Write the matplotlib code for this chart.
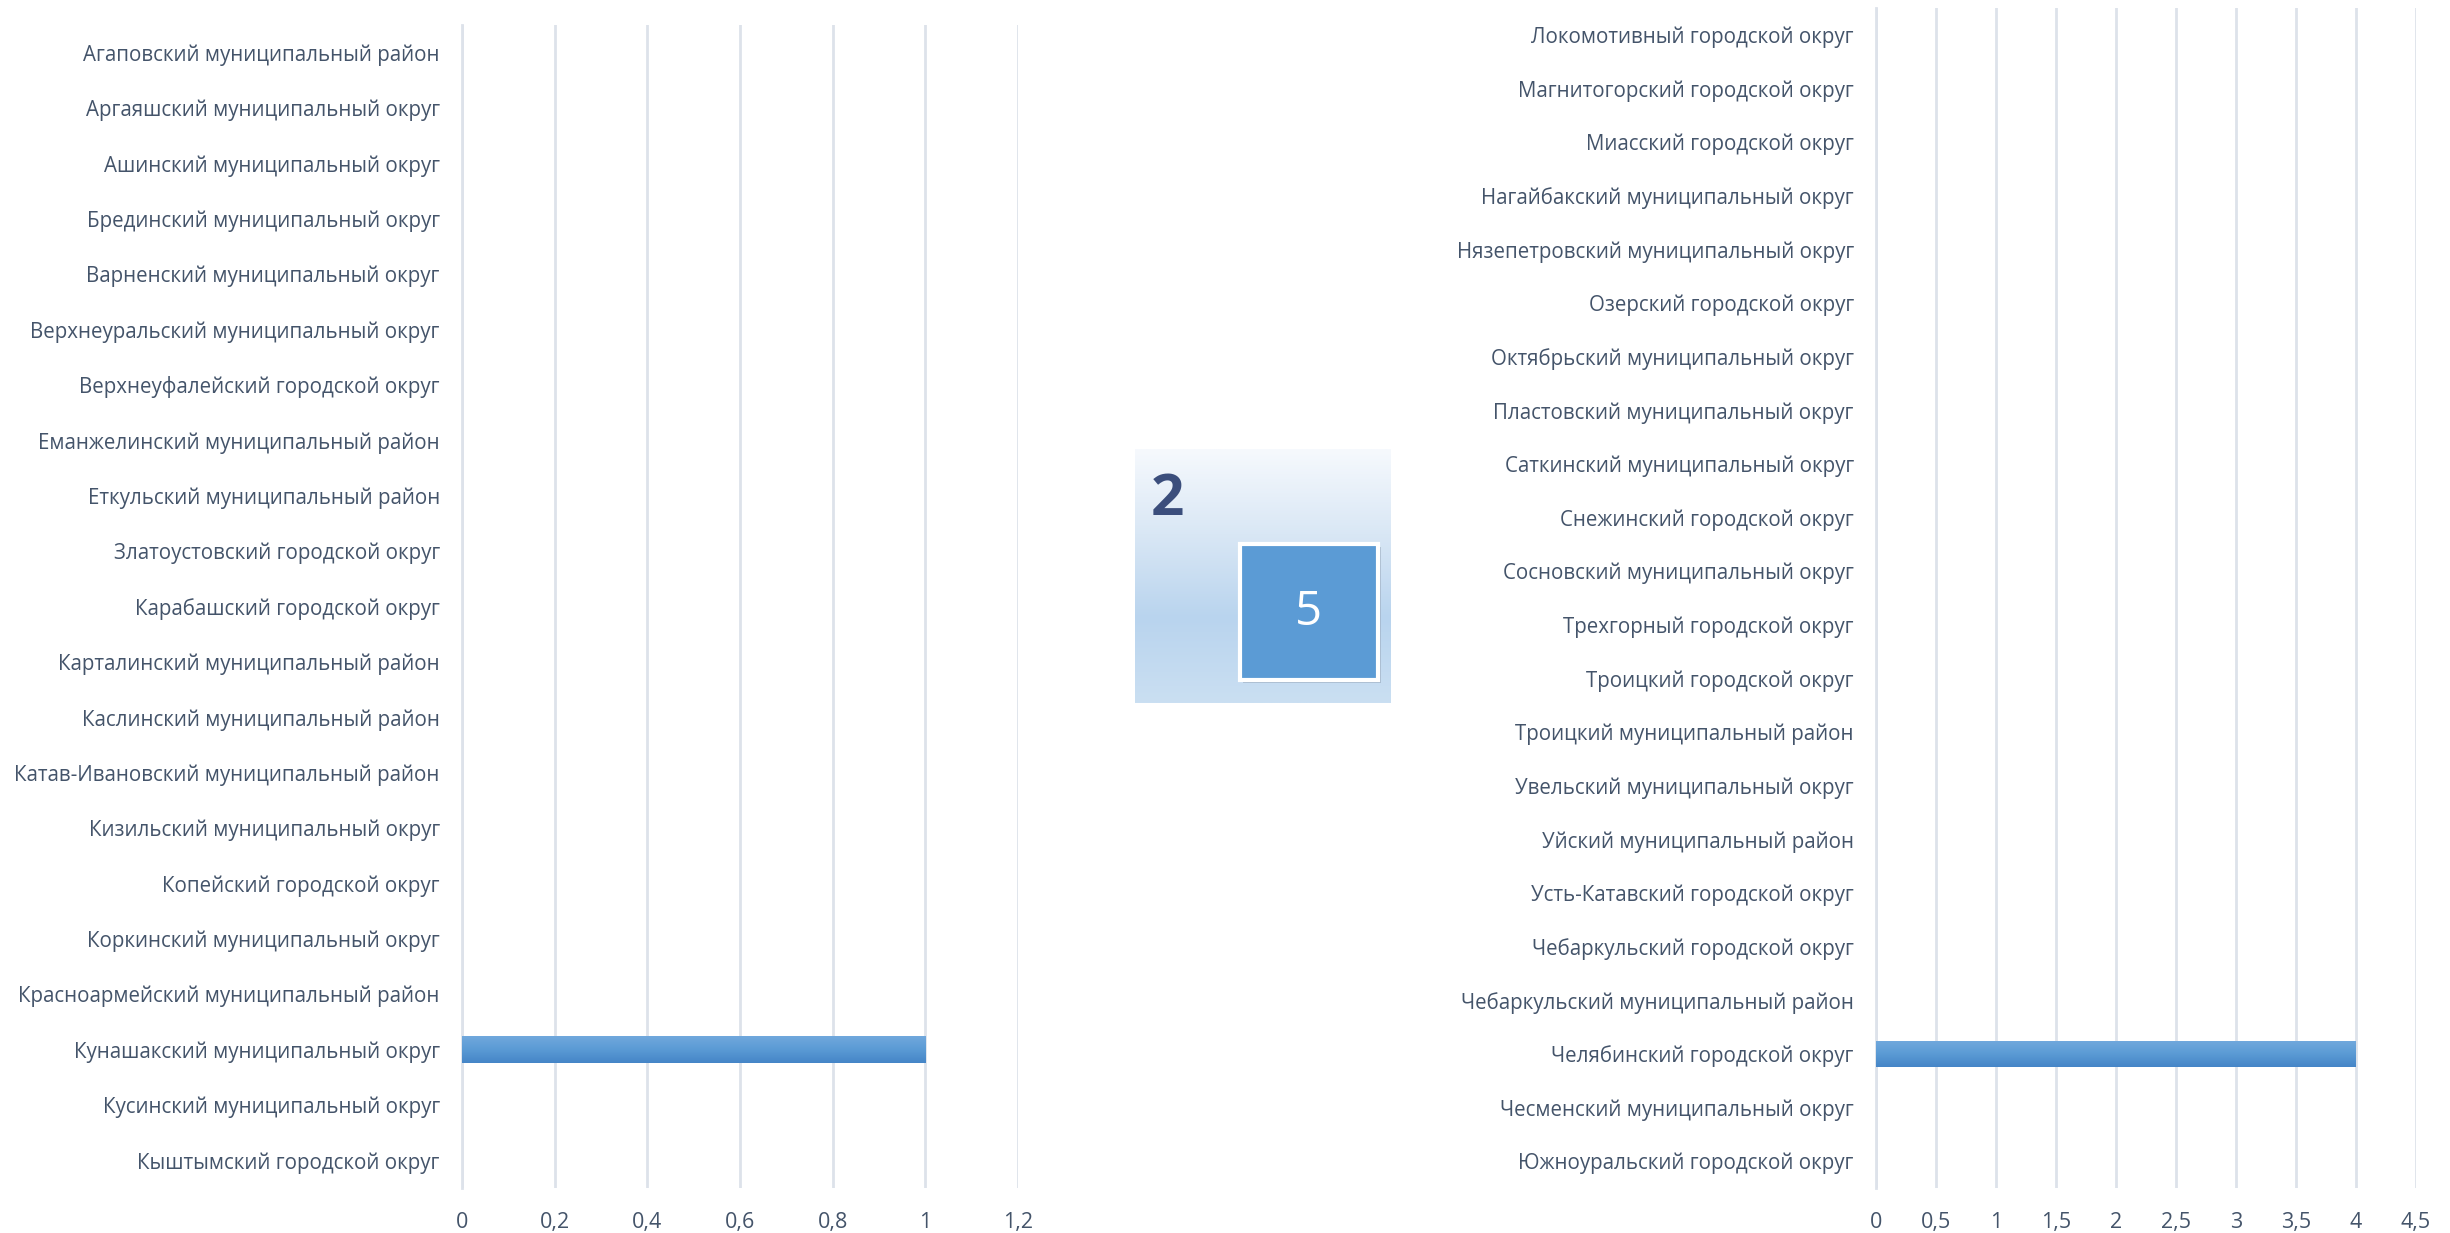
import numpy as np
import matplotlib
matplotlib.use("Agg")
import matplotlib.pyplot as plt
from matplotlib.patches import Rectangle
from matplotlib.ticker import FixedLocator

plt.rcParams['font.family'] = ['Open Sans', 'DejaVu Sans']

# левая часть
left_names = [
    "Агаповский муниципальный район",
    "Аргаяшский муниципальный округ",
    "Ашинский муниципальный округ",
    "Брединский муниципальный округ",
    "Варненский муниципальный округ",
    "Верхнеуральский муниципальный округ",
    "Верхнеуфалейский городской округ",
    "Еманжелинский муниципальный район",
    "Еткульский муниципальный район",
    "Златоустовский городской округ",
    "Карабашский городской округ",
    "Карталинский муниципальный район",
    "Каслинский муниципальный район",
    "Катав-Ивановский муниципальный район",
    "Кизильский муниципальный округ",
    "Копейский городской округ",
    "Коркинский муниципальный округ",
    "Красноармейский муниципальный район",
    "Кунашакский муниципальный округ",
    "Кусинский муниципальный округ",
    "Кыштымский городской округ",
]
left_vals = [0]*18 + [1] + [0, 0]
left_ticks = [0, 0.2, 0.4, 0.6, 0.8, 1, 1.2]

# правая часть
right_names = [
    "Локомотивный городской округ",
    "Магнитогорский городской округ",
    "Миасский городской округ",
    "Нагайбакский муниципальный округ",
    "Нязепетровский муниципальный округ",
    "Озерский городской округ",
    "Октябрьский муниципальный округ",
    "Пластовский муниципальный округ",
    "Саткинский муниципальный округ",
    "Снежинский городской округ",
    "Сосновский муниципальный округ",
    "Трехгорный городской округ",
    "Троицкий городской округ",
    "Троицкий муниципальный район",
    "Увельский муниципальный округ",
    "Уйский муниципальный район",
    "Усть-Катавский городской округ",
    "Чебаркульский городской округ",
    "Чебаркульский муниципальный район",
    "Челябинский городской округ",
    "Чесменский муниципальный округ",
    "Южноуральский городской округ",
]
right_vals = [0]*19 + [4] + [0, 0]
right_ticks = [0, 0.5, 1, 1.5, 2, 2.5, 3, 3.5, 4, 4.5]

big_num = "2"
small_num = "5"

txt_col = "#44546a"
grid_col = "#dde2ea"
bar_col = "#5b9bd5"

W, H = 2450, 1233
fig = plt.figure(figsize=(W/100, H/100), dpi=100)


def px(x0, y0, x1, y1):
    # пиксели (от верхнего левого угла) -> доли фигуры
    return [x0/W, 1 - y1/H, (x1-x0)/W, (y1-y0)/H]


grad = np.linspace(0, 1, 100).reshape(-1, 1)
bar_cmap = matplotlib.colors.LinearSegmentedColormap.from_list("b", ["#72a9dd", "#5b9bd5", "#4585c7"])


def draw(ax, names, vals, ticks):
    y = np.arange(len(names))
    bars = ax.barh(y, vals, height=0.5, color=bar_col, zorder=3)
    for b in bars:
        if b.get_width() > 0:
            x0, y0 = b.get_x(), b.get_y()
            im = ax.imshow(grad, cmap=bar_cmap, aspect='auto', zorder=4,
                           extent=[x0, x0 + b.get_width(), y0 + b.get_height(), y0])
            im.set_clip_path(b)
    ax.set_ylim(len(names) - 0.5, -0.5)
    ax.set_xlim(ticks[0], ticks[-1])
    ax.set_yticks(y)
    ax.set_yticklabels(names, fontsize=14.8, color=txt_col)
    ax.xaxis.set_major_locator(FixedLocator(ticks))
    ax.set_xticklabels([("%g" % t).replace(".", ",") for t in ticks], fontsize=15.5, color=txt_col)
    ax.tick_params(length=0, pad=17)
    ax.tick_params(axis='y', pad=16)
    ax.grid(axis='x', color=grid_col, linewidth=2, zorder=0)
    for s in ["top", "right", "bottom"]:
        ax.spines[s].set_visible(False)
    ax.spines["left"].set_color(grid_col)
    ax.spines["left"].set_linewidth(2)


ax1 = fig.add_axes(px(462, 25, 1018, 1188))
draw(ax1, left_names, left_vals, left_ticks)

ax2 = fig.add_axes(px(1876, 8, 2416, 1188))
draw(ax2, right_names, right_vals, right_ticks)

# центральная плашка
axb = fig.add_axes(px(1135, 449, 1391, 703))
box_cmap = matplotlib.colors.LinearSegmentedColormap.from_list("g", ["#f6f9fd", "#d9e7f5", "#b9d4ee", "#cadff2"])
axb.imshow(grad, cmap=box_cmap, aspect='auto', extent=[0, 1, 1, 0])
axb.set_xlim(0, 1)
axb.set_ylim(1, 0)
axb.axis('off')

fig.patches.append(Rectangle(((1243)/W, 1 - 683/H), 138/W, 136/H, transform=fig.transFigure,
                             facecolor="#8a9bb0", edgecolor="none", alpha=0.5, zorder=5))
fig.patches.append(Rectangle((1240/W, 1 - 680/H), 138/W, 136/H, transform=fig.transFigure,
                             facecolor=bar_col, edgecolor="white", linewidth=3, zorder=6))
fig.text(1151/W, 1 - 500/H, big_num, fontsize=42, fontweight='bold', color="#3b4e7c",
         ha='left', va='center', zorder=7)
fig.text(1309/W, 1 - 612/H, small_num, fontsize=34, color="white",
         ha='center', va='center', zorder=7)

fig.savefig("out.png", dpi=100)
